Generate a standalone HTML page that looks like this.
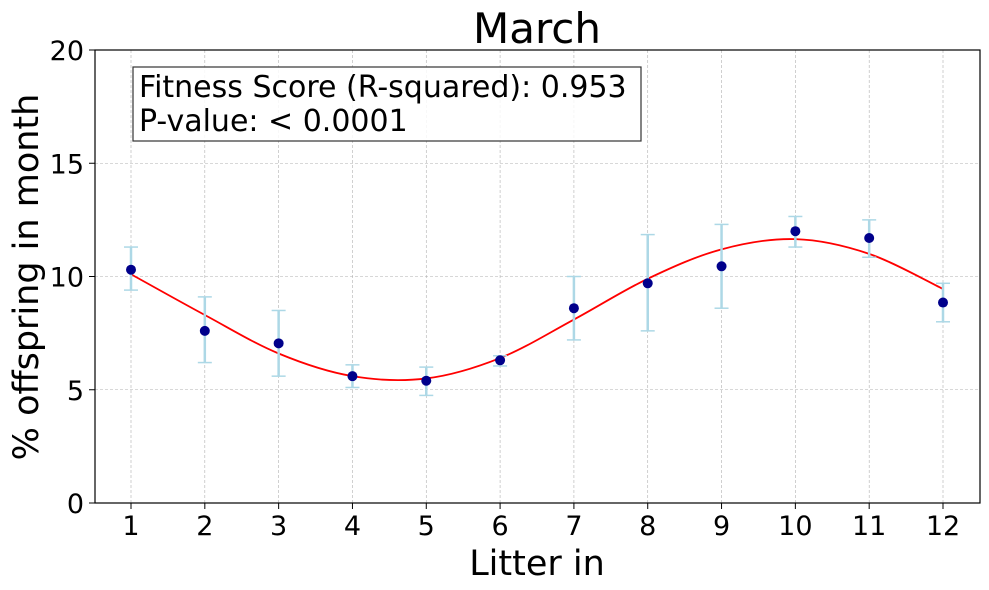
<!DOCTYPE html>
<html><head><meta charset="utf-8"><style>
html,body{margin:0;padding:0;background:#fff;width:989px;height:590px;overflow:hidden}
text{font-family:"DejaVu Sans","Liberation Sans",sans-serif}
</style></head><body>
<svg id="chart" width="989" height="590" xmlns="http://www.w3.org/2000/svg">
<g id="grid"></g>
<g id="fit"></g>
<g id="errs"></g>
<g id="pts"></g>
<rect x="95" y="50" width="885" height="453" fill="none" stroke="#000" stroke-width="1.2"/>
<g id="ticks"></g>
<text x="537" y="43" font-size="42" text-anchor="middle">March</text>
<text x="537" y="575" font-size="35" text-anchor="middle">Litter in</text>
<text transform="translate(38,277) rotate(-90)" font-size="35" text-anchor="middle">% offspring in month</text>
<g>
<rect x="133" y="67" width="508" height="74" fill="#fff" fill-opacity="0.85" stroke="#333" stroke-width="1.2"/>
<text x="139" y="97" font-size="30">Fitness Score (R-squared): 0.953</text>
<text x="139" y="131" font-size="30">P-value: &lt; 0.0001</text>
</g>
</svg>
<script>
const litters=[1,2,3,4,5,6,7,8,9,10,11,12];
const values=[10.3,7.6,7.05,5.6,5.4,6.3,8.6,9.7,10.45,12.0,11.7,8.85];
const errLow=[9.4,6.2,5.6,5.1,4.75,6.05,7.2,7.6,8.6,11.3,10.85,8.0];
const errHigh=[11.3,9.1,8.5,6.1,6.0,6.5,10.0,11.85,12.3,12.65,12.5,9.7];
const fitVals=[10.1,8.3,6.6,5.6,5.5,6.4,8.1,9.9,11.2,11.65,11.0,9.45];
const yTicks=[0,5,10,15,20];
const NS="http://www.w3.org/2000/svg";
const X=v=>131+(v-1)*(943-131)/11;
const Y=v=>503-v*(453/20);
function mk(t,a,p){const e=document.createElementNS(NS,t);for(const k in a)e.setAttribute(k,a[k]);p.appendChild(e);return e;}
const grid=document.getElementById('grid'),ticks=document.getElementById('ticks');
litters.forEach(l=>{
 const g=mk('line',{x1:X(l),x2:X(l),y1:50,y2:503,stroke:'#b0b0b0','stroke-width':0.6,'stroke-dasharray':'3,2'},grid);
 
 const t=mk('line',{x1:X(l),x2:X(l),y1:503,y2:509,stroke:'#000'},ticks);
 
 const tx=mk('text',{x:X(l),y:535,'font-size':27,'text-anchor':'middle'},ticks);tx.textContent=l;
 
});
yTicks.forEach(v=>{
 const g=mk('line',{x1:95,x2:980,y1:Y(v),y2:Y(v),stroke:'#b0b0b0','stroke-width':0.6,'stroke-dasharray':'3,2'},grid);
 
 const t=mk('line',{x1:89,x2:95,y1:Y(v),y2:Y(v),stroke:'#000'},ticks);
 
 const tx=mk('text',{x:84,y:Y(v)+10,'font-size':27,'text-anchor':'end'},ticks);tx.textContent=v;
 
});
const P=litters.map((l,i)=>[X(l),Y(fitVals[i])]);
let d=`M${P[0][0]},${P[0][1]}`;
for(let i=0;i<P.length-1;i++){const p0=P[Math.max(0,i-1)],p1=P[i],p2=P[i+1],p3=P[Math.min(P.length-1,i+2)];
 d+=` C${p1[0]+(p2[0]-p0[0])/6},${p1[1]+(p2[1]-p0[1])/6} ${p2[0]-(p3[0]-p1[0])/6},${p2[1]-(p3[1]-p1[1])/6} ${p2[0]},${p2[1]}`;}
const fl=mk('path',{d:d,fill:'none',stroke:'#ff0000','stroke-width':1.8},document.getElementById('fit'));

const errs=document.getElementById('errs'),pts=document.getElementById('pts');
litters.forEach((l,i)=>{
 const x=X(l);
 const e=mk('g',{stroke:'#add8e6','stroke-width':2.5},errs);
 
 mk('line',{x1:x,x2:x,y1:Y(errLow[i]),y2:Y(errHigh[i])},e);
 mk('line',{x1:x-7,x2:x+7,y1:Y(errLow[i]),y2:Y(errLow[i]),'stroke-width':1.5},e);
 mk('line',{x1:x-7,x2:x+7,y1:Y(errHigh[i]),y2:Y(errHigh[i]),'stroke-width':1.5},e);
 const c=mk('circle',{cx:x,cy:Y(values[i]),r:5,fill:'#00008b'},pts);
 
});
</script>
</body></html>
